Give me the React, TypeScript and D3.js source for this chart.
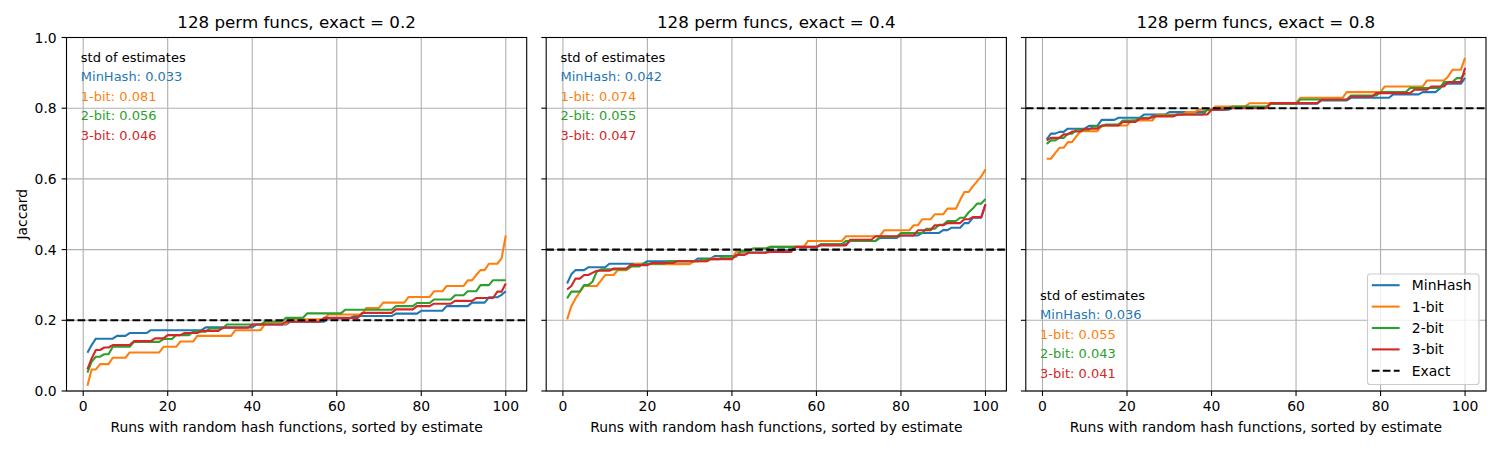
import React from 'react';
import * as d3 from 'd3';

const methods = ['MinHash', '1-bit', '2-bit', '3-bit'];
const colors = ['#1f77b4', '#ff7f0e', '#2ca02c', '#d62728'];
const exacts = [0.2, 0.4, 0.8];
const titles = ['128 perm funcs, exact = 0.2', '128 perm funcs, exact = 0.4', '128 perm funcs, exact = 0.8'];
const stds = [
  [0.033, 0.081, 0.056, 0.046],
  [0.042, 0.074, 0.055, 0.047],
  [0.036, 0.055, 0.043, 0.041],
];
const xTicks = [0, 20, 40, 60, 80, 100];
const yTicks = [0, 0.2, 0.4, 0.6, 0.8, 1.0];

// sorted estimates of 100 runs, written as [value, how many runs]
const minhash02 = [[0.108,1],[0.13,1],[0.148,5],[0.156,3],[0.164,5],[0.172,13],[0.18,12],[0.188,8],[0.196,9],[0.205,6],[0.212,10],[0.219,6],[0.227,6],[0.24,6],[0.25,4],[0.265,3],[0.272,1],[0.282,1]];
const onebit02 = [[0.015,1],[0.061,2],[0.076,3],[0.094,4],[0.109,8],[0.125,4],[0.14,4],[0.156,9],[0.172,7],[0.19,6],[0.203,9],[0.2165,9],[0.235,4],[0.25,6],[0.266,6],[0.282,3],[0.297,5],[0.313,2],[0.328,1],[0.342,2],[0.36,3],[0.375,1],[0.44,1]];
const twobit02 = [[0.052,1],[0.083,1],[0.097,2],[0.104,2],[0.125,5],[0.139,7],[0.147,3],[0.158,4],[0.168,4],[0.177,4],[0.188,9],[0.196,5],[0.207,5],[0.2195,9],[0.23,12],[0.24,5],[0.249,4],[0.259,5],[0.271,3],[0.282,3],[0.2995,3],[0.3135,4]];
const threebit02 = [[0.061,1],[0.092,1],[0.116,2],[0.123,2],[0.13,5],[0.141,5],[0.149,3],[0.158,4],[0.164,4],[0.17,5],[0.179,7],[0.188,8],[0.196,9],[0.207,9],[0.221,8],[0.231,5],[0.24,4],[0.247,5],[0.255,5],[0.263,5],[0.281,2],[0.304,1]];

const minhash04 = [[0.304,1],[0.33,1],[0.342,3],[0.35,5],[0.36,9],[0.367,12],[0.375,4],[0.382,6],[0.392,7],[0.398,6],[0.407,6],[0.415,7],[0.4245,7],[0.433,5],[0.44,5],[0.447,5],[0.455,2],[0.462,3],[0.475,2],[0.49,3],[0.528,1]];
const onebit04 = [[0.2025,1],[0.24,1],[0.262,1],[0.28,1],[0.297,4],[0.312,1],[0.328,3],[0.342,3],[0.35,1],[0.359,14],[0.367,4],[0.375,6],[0.394,4],[0.403,4],[0.4076,9],[0.4245,9],[0.4377,9],[0.4546,7],[0.4688,2],[0.4857,3],[0.4998,3],[0.5158,3],[0.54,1],[0.5629,2],[0.579,1],[0.593,1],[0.607,1],[0.627,1]];
const twobit04 = [[0.262,1],[0.281,3],[0.2995,2],[0.309,1],[0.337,1],[0.344,7],[0.352,3],[0.36,6],[0.367,8],[0.373,5],[0.38,4],[0.396,3],[0.403,4],[0.4076,12],[0.415,6],[0.4245,8],[0.436,5],[0.447,6],[0.459,3],[0.47,2],[0.481,3],[0.49,2],[0.505,1],[0.516,1],[0.53,2],[0.543,1]];
const threebit04 = [[0.287,1],[0.297,1],[0.318,2],[0.328,2],[0.334,1],[0.34,4],[0.3465,4],[0.356,5],[0.362,6],[0.367,8],[0.373,6],[0.385,3],[0.391,5],[0.3935,6],[0.4076,6],[0.412,7],[0.428,6],[0.4377,6],[0.44,4],[0.4546,4],[0.4688,3],[0.475,4],[0.4857,2],[0.492,3],[0.528,1]];

const minhash08 = [[0.712,1],[0.728,2],[0.733,2],[0.742,5],[0.75,3],[0.767,4],[0.773,6],[0.782,6],[0.789,9],[0.7955,6],[0.801,9],[0.8125,12],[0.822,7],[0.8295,10],[0.839,7],[0.8455,4],[0.855,1],[0.869,5],[0.886,1]];
const onebit08 = [[0.657,2],[0.673,1],[0.688,2],[0.704,2],[0.72,1],[0.735,5],[0.751,7],[0.765,6],[0.781,7],[0.789,3],[0.7955,4],[0.805,8],[0.814,12],[0.8295,11],[0.8455,9],[0.8615,10],[0.8785,5],[0.89,1],[0.9086,3],[0.9425,1]];
const twobit08 = [[0.699,1],[0.709,2],[0.716,2],[0.728,2],[0.739,4],[0.748,3],[0.754,4],[0.765,4],[0.773,4],[0.779,5],[0.782,7],[0.7955,3],[0.8,3],[0.805,9],[0.8125,7],[0.8248,12],[0.836,7],[0.8455,7],[0.857,8],[0.8738,3],[0.885,2],[0.9,1]];
const threebit08 = [[0.709,1],[0.716,3],[0.726,2],[0.734,3],[0.742,4],[0.751,5],[0.761,4],[0.77,3],[0.777,6],[0.782,8],[0.7955,4],[0.8,10],[0.8144,12],[0.824,7],[0.8332,6],[0.8427,9],[0.8521,4],[0.8615,4],[0.8737,4],[0.914,1]];

const panelSeries = [
  [minhash02, onebit02, twobit02, threebit02],
  [minhash04, onebit04, twobit04, threebit04],
  [minhash08, onebit08, twobit08, threebit08],
];

const expand = (r: number[][]) => r.flatMap(([v, n]) => Array(n).fill(v) as number[]);

const W = 1500, H = 450;
const top = 37.5, bottom = 391, pw = 460.2;
const lefts = [66.5, 546.2, 1025.8];
const font = 'DejaVu Sans, sans-serif';
const gridColor = '#b0b0b0';

function Panel({ k }: { k: number }) {
  const left = lefts[k];
  const x = d3.scaleLinear().domain([-3.95, 104.95]).range([left, left + pw]);
  const y = d3.scaleLinear().domain([0, 1]).range([bottom, top]);
  const line = d3.line<number>().x((_, i) => x(i + 1)).y(d => y(d));
  const series = panelSeries[k].map(expand);
  const textTop = k === 2 ? 295 : 57;

  return (
    <g fontFamily={font}>
      {xTicks.map(t => (
        <line key={'gx' + t} x1={x(t)} x2={x(t)} y1={top} y2={bottom} stroke={gridColor} strokeWidth={1.1} />
      ))}
      {yTicks.map(t => (
        <line key={'gy' + t} x1={left} x2={left + pw} y1={y(t)} y2={y(t)} stroke={gridColor} strokeWidth={1.1} />
      ))}
      {series.map((s, j) => (
        <path key={j} d={line(s) || ''} fill="none" stroke={colors[j]} strokeWidth={2.1} strokeLinejoin="round" />
      ))}
      <line x1={left} x2={left + pw} y1={y(exacts[k])} y2={y(exacts[k])} stroke="#000" strokeWidth={2.1} strokeDasharray="7.7,3.3" />

      <text x={left + 14.3} y={textTop + 4.6} fontSize={13} fill="#000">std of estimates</text>
      {methods.map((m, j) => (
        <text key={m} x={left + 14.3} y={textTop + 4.6 + 19.6 * (j + 1)} fontSize={13} fill={colors[j]}>
          {`${m}: ${stds[k][j].toFixed(3)}`}
        </text>
      ))}

      <rect x={left} y={top} width={pw} height={bottom - top} fill="none" stroke="#000" strokeWidth={1.1} />
      {xTicks.map(t => (
        <g key={'tx' + t}>
          <line x1={x(t)} x2={x(t)} y1={bottom} y2={bottom + 4.9} stroke="#000" strokeWidth={1.1} />
          <text x={x(t)} y={bottom + 19.5} fontSize={13.9} textAnchor="middle">{t}</text>
        </g>
      ))}
      {yTicks.map(t => (
        <g key={'ty' + t}>
          <line x1={left - 4.9} x2={left} y1={y(t)} y2={y(t)} stroke="#000" strokeWidth={1.1} />
          {k === 0 && (
            <text x={left - 9.8} y={y(t) + 5} fontSize={13.9} textAnchor="end">{d3.format('.1f')(t)}</text>
          )}
        </g>
      ))}
      <text x={left + pw / 2} y={28} fontSize={16.7} textAnchor="middle">{titles[k]}</text>
      <text x={left + pw / 2} y={432} fontSize={13.9} textAnchor="middle">Runs with random hash functions, sorted by estimate</text>
      {k === 0 && (
        <text transform={`translate(27,${(top + bottom) / 2}) rotate(-90)`} fontSize={13.9} textAnchor="middle">Jaccard</text>
      )}
      {k === 2 && <Legend />}
    </g>
  );
}

function Legend() {
  const lx = 1367.5, ly = 274, lw = 111.5, lh = 110.5;
  const entries = [...methods.map((m, j) => ({ name: m, color: colors[j], dash: '' })), { name: 'Exact', color: '#000', dash: '7.7,3.3' }];
  return (
    <g>
      <rect x={lx} y={ly} width={lw} height={lh} rx={2.8} fill="#fff" fillOpacity={0.8} stroke="#cccccc" strokeWidth={1.1} />
      {entries.map((e, i) => {
        const cy = 285.2 + i * 21.4;
        return (
          <g key={e.name}>
            <line x1={1371.8} x2={1399.6} y1={cy} y2={cy} stroke={e.color} strokeWidth={2.1} strokeDasharray={e.dash || undefined} />
            <text x={1411.8} y={cy + 4.9} fontSize={13.9}>{e.name}</text>
          </g>
        );
      })}
    </g>
  );
}

export default function App() {
  return (
    <div style={{ position: 'absolute', left: 0, top: 0 }}>
      <svg width={W} height={H} style={{ display: 'block', background: '#fff' }}>
        {[0, 1, 2].map(k => <Panel key={k} k={k} />)}
      </svg>
    </div>
  );
}
